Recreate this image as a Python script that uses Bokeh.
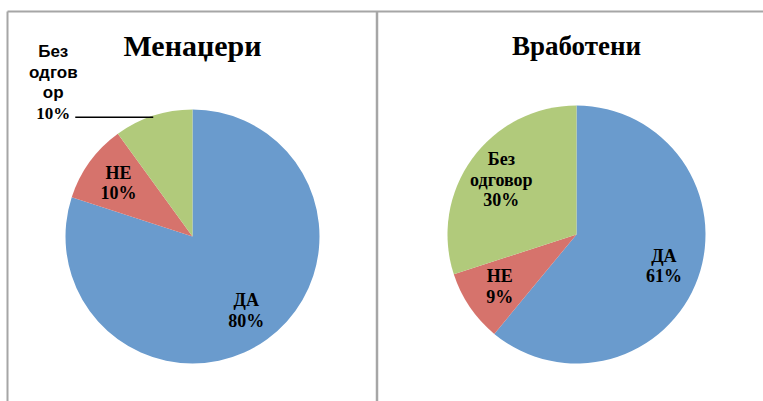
import math
from bokeh.plotting import figure
from bokeh.models import Range1d
from bokeh.core.properties import value
from bokeh.embed import file_html
from bokeh.resources import INLINE

# ---- data ----
categories = ["ДА", "НЕ", "Без одговор"]
managers_values = [80, 10, 10]
workers_values = [61, 9, 30]
chart_titles = ["Менаџери", "Вработени"]
colors = ["#6A9BCD", "#D6736C", "#B1CA7B"]

W, H = 763, 401
p = figure(width=W, height=H, output_backend="svg", toolbar_location=None,
           x_range=Range1d(0, W), y_range=Range1d(0, H),
           x_axis_location=None, y_axis_location=None, min_border=0)
p.grid.visible = False
p.outline_line_color = None
p.background_fill_color = "white"

SERIF = value("Liberation Serif")
SANS = value("Liberation Sans")

# frame lines (image y = H - data y)
border = "#A6A6A6"
p.line([7, W], [H - 11, H - 11], line_color=border, line_width=2)
p.line([7, 7], [0, H - 11], line_color=border, line_width=2)
p.line([376.5, 376.5], [0, H - 11], line_color=border, line_width=2.5)


def wrap(name, maxchars):
    lines = []
    for word in name.split(" "):
        while len(word) > maxchars:
            lines.append(word[:maxchars])
            word = word[maxchars:]
        lines.append(word)
    return lines


def draw_pie(cx, cy, r, vals, title, title_size, outside=()):
    total = float(sum(vals))
    cum = 0.0
    starts, ends = [], []
    for v in vals:
        starts.append(math.pi / 2 - 2 * math.pi * cum / total)
        cum += v
        ends.append(math.pi / 2 - 2 * math.pi * cum / total)
    p.wedge(x=[cx] * len(vals), y=[cy] * len(vals), radius=r,
            start_angle=starts, end_angle=ends, direction="clock",
            fill_color=colors, line_color=None)
    p.text(x=[cx], y=[H - 45], text=[title],
           text_font=SERIF, text_font_style="bold", text_font_size=title_size,
           text_align="center", text_baseline="middle", text_color="black")
    lh = 20.5
    for i, (name, v) in enumerate(zip(categories, vals)):
        mid = (starts[i] + ends[i]) / 2
        if i in outside:
            ex = cx + r * math.cos(mid)
            ey = cy + r * math.sin(mid) - 1.5
            x0 = ex - 78
            p.line([x0, ex], [ey, ey], line_color="black", line_width=1.6)
            bx = x0 - 22
            name_lines = wrap(name, 5)
            pct_y = ey + 4
            p.text(x=[bx], y=[pct_y], text=[f"{v}%"], text_font=SERIF,
                   text_font_style="bold", text_font_size="17px",
                   text_align="center", text_baseline="middle", text_color="black")
            ys = [pct_y + lh * (len(name_lines) - k) for k in range(len(name_lines))]
            p.text(x=[bx] * len(name_lines), y=ys, text=name_lines, text_font=SANS,
                   text_font_style="bold", text_font_size="17px",
                   text_align="center", text_baseline="middle", text_color="black")
        else:
            lx = cx + 0.72 * r * math.cos(mid)
            ly = cy + 0.72 * r * math.sin(mid)
            lines = wrap(name, 8) + [f"{v}%"]
            n = len(lines)
            ys = [ly + lh * ((n - 1) / 2 - j) for j in range(n)]
            p.text(x=[lx] * n, y=ys, text=lines, text_font=SERIF,
                   text_font_style="bold", text_font_size="18px",
                   text_align="center", text_baseline="middle", text_color="black")


draw_pie(192, H - 236, 127, managers_values, chart_titles[0], "30px", outside=(2,))
draw_pie(576, H - 234, 129, workers_values, chart_titles[1], "27px")

open("out.html", "w").write(file_html(p, INLINE))
